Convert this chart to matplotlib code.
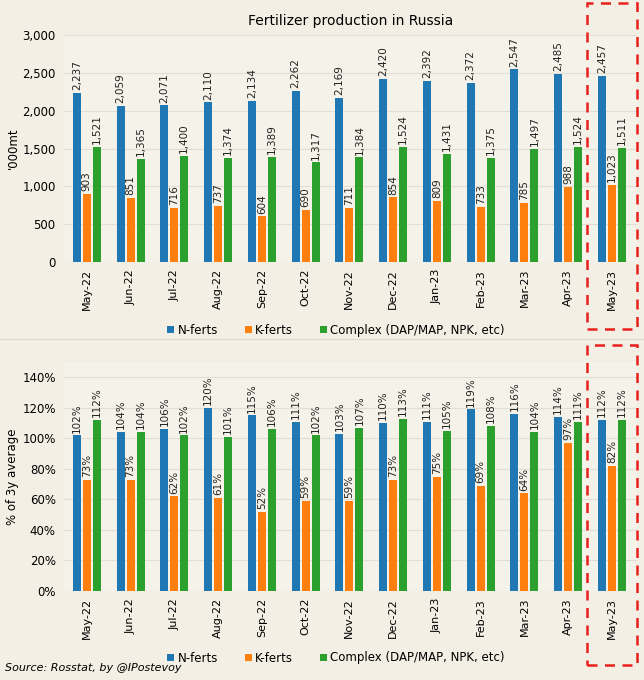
import numpy as np
import matplotlib
matplotlib.use("Agg")
import matplotlib.pyplot as plt
from matplotlib.patches import Rectangle
from matplotlib.lines import Line2D
import matplotlib.transforms as mtransforms

months = ["May-22", "Jun-22", "Jul-22", "Aug-22", "Sep-22", "Oct-22", "Nov-22",
          "Dec-22", "Jan-23", "Feb-23", "Mar-23", "Apr-23", "May-23"]
series = ["N-ferts", "K-ferts", "Complex (DAP/MAP, NPK, etc)"]

# '000mt
n_ferts = [2237, 2059, 2071, 2110, 2134, 2262, 2169, 2420, 2392, 2372, 2547, 2485, 2457]
k_ferts = [903, 851, 716, 737, 604, 690, 711, 854, 809, 733, 785, 988, 1023]
complex_ferts = [1521, 1365, 1400, 1374, 1389, 1317, 1384, 1524, 1431, 1375, 1497, 1524, 1511]

# % of 3y average
n_pct = [102, 104, 106, 120, 115, 111, 103, 110, 111, 119, 116, 114, 112]
k_pct = [73, 73, 62, 61, 52, 59, 59, 73, 75, 69, 64, 97, 82]
c_pct = [112, 104, 102, 101, 106, 102, 107, 113, 105, 108, 104, 111, 112]

colors = ["#1f77b4", "#ff7f0e", "#2ca02c"]
bg = "#f3efe4"
axbg = "#f5f2e9"

fig = plt.figure(figsize=(6.44, 6.8), dpi=100, facecolor=bg)
ax1 = fig.add_axes([0.0994, 0.6147, 0.8896, 0.3338], facecolor=axbg)
ax2 = fig.add_axes([0.0994, 0.1309, 0.8896, 0.3367], facecolor=axbg)

x = np.arange(len(months))
w = 0.183
step = 0.228


def draw(ax, data, fmt):
    for i, vals in enumerate(data):
        bars = ax.bar(x + (i - 1) * step, vals, width=w, color=colors[i],
                      label=series[i], zorder=3)
        ax.bar_label(bars, labels=[fmt(v) for v in vals], rotation=90,
                     padding=2, fontsize=7.5, color="#222222")
    ax.set_xticks(x)
    ax.set_xticklabels(months, rotation=90, fontsize=8)
    ax.tick_params(axis="both", length=0, labelsize=8.5, pad=6)
    ax.tick_params(axis="x", labelsize=8, pad=5)
    ax.set_xlim(-0.52, 12.57)
    ax.grid(axis="y", color="#e2ded3", linewidth=0.8, zorder=0)
    for s in ax.spines.values():
        s.set_visible(False)
    # blended transform for the red highlight box (x in data, y in axes)
    return mtransforms.blended_transform_factory(ax.transData, ax.transAxes)


t1 = draw(ax1, [n_ferts, k_ferts, complex_ferts], lambda v: f"{v:,}")
ax1.set_ylim(0, 3000)
ax1.set_yticks(range(0, 3001, 500))
ax1.yaxis.set_major_formatter(matplotlib.ticker.StrMethodFormatter("{x:,.0f}"))
ax1.set_ylabel("'000mt", fontsize=8.5, labelpad=2)
ax1.set_title("Fertilizer production in Russia", fontsize=10, pad=7)
ax1.add_patch(Rectangle((11.42, -0.295), 1.16, 1.435, transform=t1, fill=False,
                        edgecolor="#e8201c", linestyle=(0, (4, 3)), linewidth=1.8,
                        clip_on=False, zorder=5))

t2 = draw(ax2, [n_pct, k_pct, c_pct], lambda v: f"{v}%")
ax2.set_ylim(0, 150)
ax2.set_yticks(range(0, 141, 20))
ax2.yaxis.set_major_formatter(matplotlib.ticker.StrMethodFormatter("{x:.0f}%"))
ax2.set_ylabel("% of 3y average", fontsize=8.5, labelpad=2)
ax2.add_patch(Rectangle((11.42, -0.325), 1.16, 1.4, transform=t2, fill=False,
                        edgecolor="#e8201c", linestyle=(0, (4, 3)), linewidth=1.8,
                        clip_on=False, zorder=5))

for ax, ypos in [(ax1, 1 - 330 / 680), (ax2, 1 - 658 / 680)]:
    ax.legend(loc="center", bbox_to_anchor=(336 / 644, ypos),
              bbox_transform=fig.transFigure, ncol=3, frameon=False,
              fontsize=8.5, handlelength=0.6, handleheight=0.6,
              handletextpad=0.25, columnspacing=2.3)

fig.add_artist(Line2D([0, 1], [1 - 339 / 680, 1 - 339 / 680],
                      transform=fig.transFigure, color="#dcd8cc", linewidth=0.8))
fig.text(5 / 644, 1 - 668 / 680, "Source: Rosstat, by @IPostevoy", fontsize=8,
         style="italic", va="center", ha="left")

fig.savefig("out.png", dpi=100, facecolor=bg)
